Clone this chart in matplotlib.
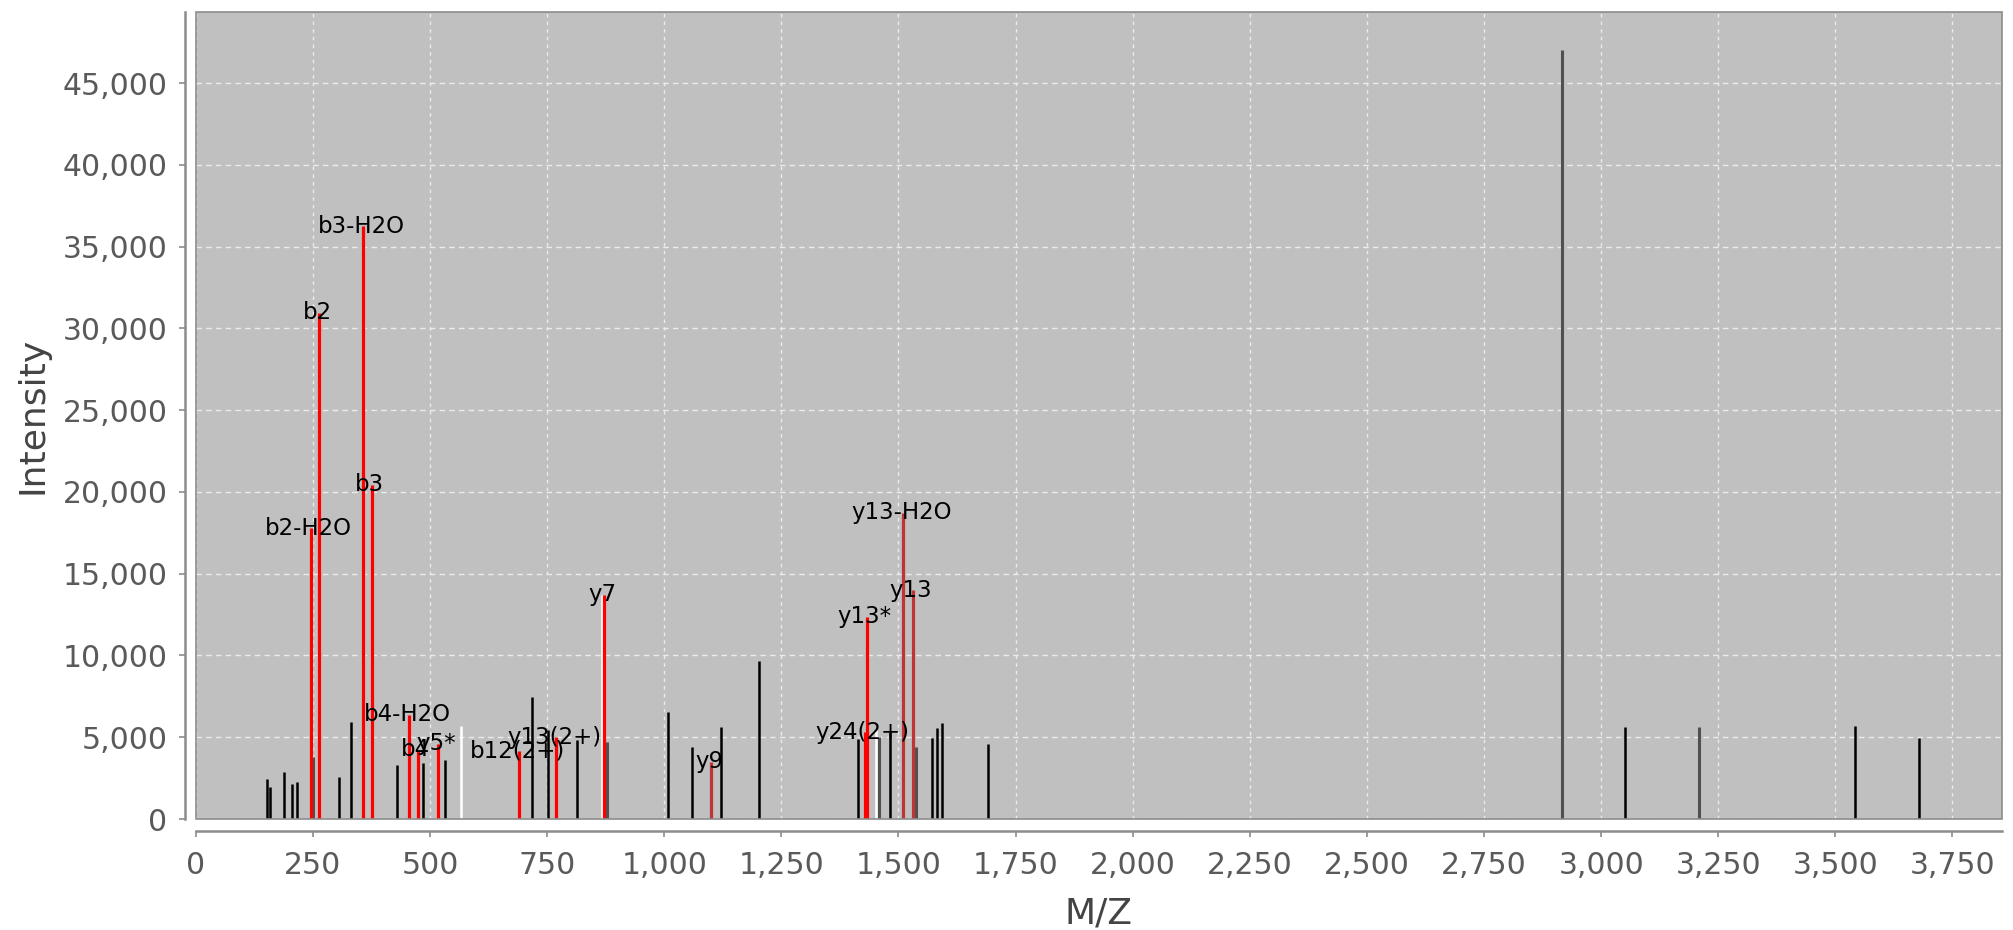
import matplotlib
matplotlib.use("Agg")
import matplotlib.pyplot as plt
from matplotlib.patches import Rectangle
from matplotlib.ticker import FuncFormatter

# ---- data ----
mz = [152.6, 158.0, 188.9, 204.5, 216.5, 245.0, 250.7, 263.5, 306.0, 331.0,
      357.4, 375.2, 428.5, 455.5, 473.3, 484.0, 517.4, 531.6, 566.0, 689.7,
      718.6, 752.0, 769.8, 814.6, 867.0, 871.5, 878.6, 1008.0, 1059.0, 1100.5,
      1121.8, 1202.0, 1413.0, 1428.0, 1432.0, 1452.0, 1458.0, 1482.0, 1510.6, 1530.5,
      1537.7, 1571.0, 1582.5, 1592.5, 1691.4, 2917.0, 3051.0, 3209.0, 3541.5, 3678.0]
intensity = [2440, 1930, 2870, 2110, 2260, 17780, 3790, 30960, 2570, 5910,
             36240, 20440, 3280, 6370, 4220, 3420, 4590, 3580, 5710, 4160,
             7490, 5440, 5010, 4830, 13700, 13700, 4730, 6560, 4420, 3500,
             5640, 9680, 4870, 5300, 12370, 5440, 5030, 5340, 18730, 14000,
             4420, 4930, 5550, 5850, 4590, 47010, 5600, 5600, 5660, 4950]
# peak kind: a = annotated (red), d = annotated (dark red), k = unannotated,
# g = unannotated (grey), w = white
kind = ['k', 'k', 'k', 'k', 'k', 'a', 'g', 'a', 'k', 'k',
        'a', 'a', 'k', 'a', 'a', 'k', 'a', 'k', 'w', 'a',
        'k', 'k', 'a', 'k', 'w', 'a', 'g', 'k', 'k', 'd',
        'k', 'k', 'k', 'a', 'a', 'w', 'g', 'k', 'd', 'd',
        'g', 'k', 'k', 'k', 'k', 'g', 'k', 'g', 'k', 'k']
labels = ['', '', '', '', '', 'b2-H2O', '', 'b2', '', '',
          'b3-H2O', 'b3', '', 'b4-H2O', 'b4', '', 'y5*', '', '', 'b12(2+)',
          '', '', 'y13(2+)', '', '', 'y7', '', '', '', 'y9',
          '', '', '', 'y24(2+)', 'y13*', '', '', '', 'y13-H2O', 'y13',
          '', '', '', '', '', '', '', '', '', '']

x_ticks = list(range(0, 3751, 250))
y_ticks = list(range(0, 45001, 5000))

# ---- styles ----
colors = {'a': '#ff0000', 'd': '#c03434', 'k': '#000000', 'g': '#505050', 'w': '#ffffff'}
widths = {'a': 2.3, 'd': 2.3, 'k': 1.8, 'g': 2.2, 'w': 1.8}
order = ['w', 'k', 'g', 'a', 'd']

fig = plt.figure(figsize=(20.13, 9.3), dpi=100)
ax = fig.add_axes([0.09727, 0.11935, 0.8971, 0.86818])
ax.set_facecolor('#c0c0c0')
ax.set_xlim(0, 3855)
ax.set_ylim(0, 49370)

ax.set_axisbelow(True)
ax.xaxis.grid(True, color='#ececec', linestyle=(0, (2.5, 3)), linewidth=1.0)
ax.yaxis.grid(True, color='#ececec', linestyle=(0, (4, 3)), linewidth=1.0)

for z, k in enumerate(order):
    xs = [m for m, kk in zip(mz, kind) if kk == k]
    ys = [v for v, kk in zip(intensity, kind) if kk == k]
    ax.vlines(xs, 0, ys, colors=colors[k], linewidth=widths[k], zorder=2 + z)

for m, v, lab in zip(mz, intensity, labels):
    if lab:
        ax.text(m - 4, v, lab, ha='center', va='center', fontsize=16.5,
                color='black', zorder=10)

ax.set_xticks(x_ticks)
ax.set_yticks(y_ticks)
ax.xaxis.set_major_formatter(FuncFormatter(lambda v, p: f"{int(v):,}"))
ax.yaxis.set_major_formatter(FuncFormatter(lambda v, p: f"{int(v):,}"))

for s in ['top', 'right']:
    ax.spines[s].set_visible(False)
ax.spines['left'].set_position(('outward', 8))
ax.spines['bottom'].set_position(('outward', 8.4))
for s in ['left', 'bottom']:
    ax.spines[s].set_color('#8c8c8c')
    ax.spines[s].set_linewidth(1.8)

ax.add_patch(Rectangle((0, 0), 1, 1, transform=ax.transAxes, fill=False,
                       edgecolor='#8c8c8c', linewidth=1.2, zorder=20,
                       clip_on=False))

ax.tick_params(axis='both', direction='out', length=4.3, width=1.2,
               color='#8c8c8c', labelsize=21.5, labelcolor='#5a5a5a')
ax.tick_params(axis='y', pad=8)
ax.tick_params(axis='x', pad=10)

ax.set_xlabel('M/Z', fontsize=26, color='#444444')
ax.set_ylabel('Intensity', fontsize=26, color='#444444')
ax.xaxis.set_label_coords(0.5, -0.0962)
ax.yaxis.set_label_coords(-0.081, 0.5)

fig.savefig('out.png', dpi=100, facecolor='white')
